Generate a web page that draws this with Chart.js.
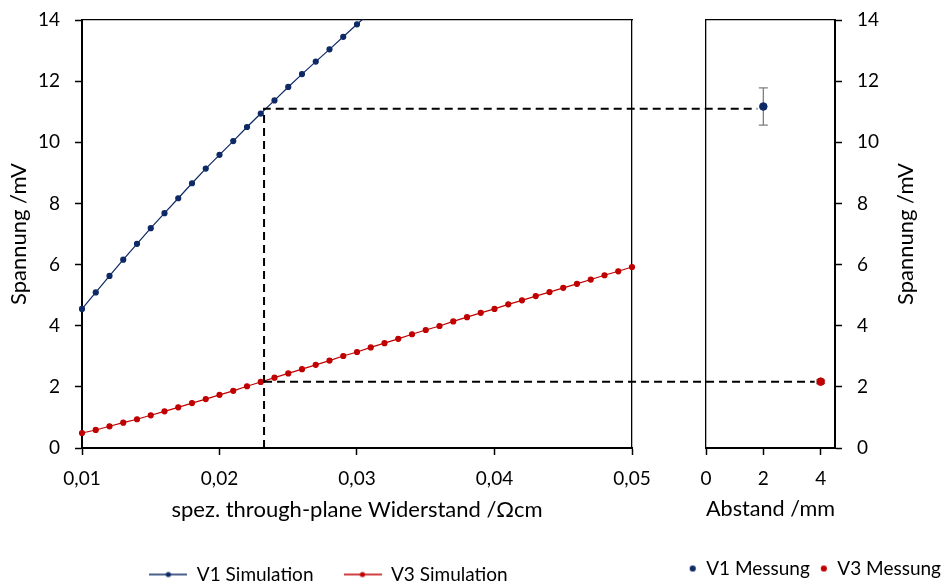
<!DOCTYPE html>
<html>
<head>
<meta charset="utf-8">
<script src="https://cdn.jsdelivr.net/npm/chart.js@4/dist/chart.umd.min.js"></script>
<style>
html,body{margin:0;padding:0;background:#fff;overflow:hidden;width:951px;height:582px}
canvas{position:absolute;left:0;top:0}
</style>
</head>
<body>
<canvas id="cl" width="951" height="594"></canvas>
<canvas id="cr" width="951" height="588"></canvas>
<script>
// ---------- data ----------
const resistivity = [0.010,0.011,0.012,0.013,0.014,0.015,0.016,0.017,0.018,0.019,
  0.020,0.021,0.022,0.023,0.024,0.025,0.026,0.027,0.028,0.029,
  0.030,0.031,0.032,0.033,0.034,0.035,0.036,0.037,0.038,0.039,
  0.040,0.041,0.042,0.043,0.044,0.045,0.046,0.047,0.048,0.049,0.050];
const v1Simulation = [4.55,5.09,5.63,6.16,6.68,7.19,7.68,8.17,8.66,9.14,
  9.59,10.04,10.50,10.94,11.37,11.81,12.23,12.64,13.04,13.45,
  13.86,14.26,14.66];
const v3Simulation = [0.49,0.59,0.71,0.83,0.94,1.07,1.20,1.33,1.47,1.60,
  1.74,1.87,2.02,2.16,2.30,2.44,2.58,2.72,2.86,3.01,
  3.14,3.29,3.43,3.57,3.72,3.86,3.99,4.14,4.28,4.42,
  4.55,4.70,4.83,4.97,5.10,5.24,5.37,5.51,5.65,5.78,5.92];
const distance = [2, 4];
const v1Measured = [11.17];
const v1MeasuredErr = [0.61];
const v3Measured = [2.17];
const v3MeasuredErr = [0.06];
const guideResistivity = 0.02324;
const guideV1 = 11.1;
const guideV3 = 2.17;
const xTicksLeft = [0.01, 0.05, 0.01];   // min, max, step
const xTicksRight = [0, 4.5, 2];
const yTicks = [0, 14, 2];

// ---------- styles ----------
const FONT = 'Lato, "Open Sans", sans-serif';
const FS = 19;      // ticks, legend
const FT = 22;      // x axis titles
const FY = 22;      // y axis titles
const C1 = '#0e2a66';
const C3 = '#c00000';
Chart.defaults.font.family = FONT;
Chart.defaults.font.size = FS;
Chart.defaults.color = '#000';

function lineIcon(color) {
  const c = document.createElement('canvas'); c.width = 38; c.height = 8;
  const g = c.getContext('2d');
  g.strokeStyle = color; g.lineWidth = 1.3;
  g.beginPath(); g.moveTo(0, 4); g.lineTo(38, 4); g.stroke();
  g.fillStyle = color; g.beginPath(); g.arc(19, 4, 2.6, 0, Math.PI * 2); g.fill();
  return c;
}
function dotIcon(color) {
  const c = document.createElement('canvas'); c.width = 8; c.height = 8;
  const g = c.getContext('2d');
  g.fillStyle = color; g.beginPath(); g.arc(4, 4, 3.1, 0, Math.PI * 2); g.fill();
  return c;
}

const tickGrid = {drawOnChartArea: false, tickLength: 7, tickWidth: 1.5, color: '#000'};
const hiddenAxis = (pos, size) => ({
  position: pos, display: true, min: 0, max: 1,
  ticks: {display: false}, grid: {display: false, drawTicks: false},
  border: {display: true, color: '#000', width: 1.3},
  afterFit: s => {
    if (pos === 'top') s.height = size; else s.width = size;
    s.paddingTop = 0; s.paddingBottom = 0; s.paddingLeft = 0; s.paddingRight = 0;
  }
});
const fixY = w => s => { s.width = w; s.paddingTop = 0; s.paddingBottom = 0; };

const clipBox = {left: 5, right: 5, top: 0.5, bottom: 5};

// ---------- left chart ----------
const H_L = 594, PAD_L = 30;
const leftChart = new Chart(document.getElementById('cl'), {
  type: 'line',
  data: {
    datasets: [
      {label: 'V1 Simulation', data: v1Simulation.map((v, i) => ({x: resistivity[i], y: v})),
       xAxisID: 'x', yAxisID: 'y',
       borderColor: C1, backgroundColor: C1, borderWidth: 1.2, pointRadius: 2.5, pointHoverRadius: 2.5, clip: clipBox},
      {label: 'V3 Simulation', data: v3Simulation.map((v, i) => ({x: resistivity[i], y: v})),
       xAxisID: 'x', yAxisID: 'y',
       borderColor: C3, backgroundColor: C3, borderWidth: 1.2, pointRadius: 2.5, pointHoverRadius: 2.5, clip: clipBox}
    ]
  },
  options: {
    responsive: false, animation: false, events: [],
    layout: {padding: {left: 0, right: 294, top: 20, bottom: 0}},
    plugins: {
      tooltip: {enabled: false},
      legend: {
        position: 'bottom', align: 'center',
        labels: {
          usePointStyle: true, pointStyleWidth: 38, padding: PAD_L, color: '#000',
          font: {size: FS},
          generateLabels: chart => {
            const items = Chart.defaults.plugins.legend.labels.generateLabels(chart);
            items.forEach((it, i) => { it.pointStyle = lineIcon(i === 0 ? C1 : C3); });
            return items;
          }
        }
      }
    },
    scales: {
      x: {
        type: 'linear', position: 'bottom', min: xTicksLeft[0], max: xTicksLeft[1],
        ticks: {stepSize: xTicksLeft[2], padding: 12.6, color: '#000',
          callback: v => Number(v).toFixed(2).replace('.', ',')},
        grid: tickGrid, border: {color: '#000', width: 2},
        title: {display: true, text: 'spez. through-plane Widerstand /Ωcm', color: '#000',
          font: {size: FT}, padding: {top: 0, bottom: 11.8}},
        afterFit: s => { s.height = H_L - (FS + PAD_L + 10) - 448; }
      },
      xTop: hiddenAxis('top', 0),
      y: {
        position: 'left', min: yTicks[0], max: yTicks[1],
        ticks: {stepSize: yTicks[2], padding: 15, color: '#000'},
        grid: tickGrid, border: {color: '#000', width: 2},
        title: {display: true, text: 'Spannung /mV', color: '#000', font: {size: FY}, padding: {top: 5.3, bottom: 0}},
        afterFit: fixY(82)
      },
      yR: hiddenAxis('right', 25)
    }
  }
});

// ---------- right chart ----------
const H_R = 588, PAD_R = 10;
const overlay = {
  id: 'overlay',
  beforeDatasetsDraw(chart) {
    const ctx = chart.ctx;
    const lx = leftChart.scales.x, ly = leftChart.scales.y;
    const rx = chart.scales.x, ry = chart.scales.y;
    // guide lines
    ctx.save();
    ctx.strokeStyle = '#000'; ctx.lineWidth = 2; ctx.setLineDash([8, 5]);
    const gx = lx.getPixelForValue(guideResistivity);
    ctx.beginPath();
    ctx.moveTo(gx, ly.getPixelForValue(0));
    ctx.lineTo(gx, ly.getPixelForValue(guideV1));
    ctx.lineTo(rx.getPixelForValue(distance[0]) - 6, ry.getPixelForValue(guideV1));
    ctx.stroke();
    ctx.beginPath();
    ctx.moveTo(gx, ly.getPixelForValue(guideV3));
    ctx.lineTo(rx.getPixelForValue(distance[1]) - 6, ry.getPixelForValue(guideV3));
    ctx.stroke();
    ctx.restore();
    // error bars
    ctx.save();
    ctx.strokeStyle = '#7f7f7f'; ctx.lineWidth = 1.3;
    const bars = [[distance[0], v1Measured[0], v1MeasuredErr[0]], [distance[1], v3Measured[0], v3MeasuredErr[0]]];
    bars.forEach(([x, v, e]) => {
      const px = rx.getPixelForValue(x), y1 = ry.getPixelForValue(v + e), y2 = ry.getPixelForValue(v - e);
      ctx.beginPath();
      ctx.moveTo(px, y1); ctx.lineTo(px, y2);
      ctx.moveTo(px - 4.5, y1); ctx.lineTo(px + 4.5, y1);
      ctx.moveTo(px - 4.5, y2); ctx.lineTo(px + 4.5, y2);
      ctx.stroke();
    });
    ctx.restore();
  },
  afterDraw(chart) {
    const ctx = chart.ctx, a = chart.chartArea;
    ctx.save();
    ctx.fillStyle = '#000'; ctx.font = FY + 'px ' + FONT;
    ctx.textAlign = 'center'; ctx.textBaseline = 'middle';
    ctx.translate(906, (a.top + a.bottom) / 2);
    ctx.rotate(-Math.PI / 2);
    ctx.fillText('Spannung /mV', 0, 0);
    ctx.restore();
  }
};

const rightChart = new Chart(document.getElementById('cr'), {
  type: 'scatter',
  data: {
    datasets: [
      {label: 'V1 Messung', data: v1Measured.map(v => ({x: distance[0], y: v})),
       xAxisID: 'x', yAxisID: 'y',
       backgroundColor: C1, borderColor: C1, pointRadius: 3.8, pointHoverRadius: 3.8},
      {label: 'V3 Messung', data: v3Measured.map(v => ({x: distance[1], y: v})),
       xAxisID: 'x', yAxisID: 'y',
       backgroundColor: C3, borderColor: C3, pointRadius: 3.8, pointHoverRadius: 3.8}
    ]
  },
  plugins: [overlay],
  options: {
    responsive: false, animation: false, events: [],
    layout: {padding: {left: 600, right: 0, top: 20, bottom: 0}},
    plugins: {
      tooltip: {enabled: false},
      legend: {
        position: 'bottom', align: 'end',
        labels: {
          usePointStyle: true, pointStyleWidth: 8, padding: PAD_R, color: '#000',
          font: {size: FS},
          generateLabels: chart => {
            const items = Chart.defaults.plugins.legend.labels.generateLabels(chart);
            items.forEach((it, i) => { it.pointStyle = dotIcon(i === 0 ? C1 : C3); });
            return items;
          }
        }
      }
    },
    scales: {
      x: {
        type: 'linear', position: 'bottom', min: xTicksRight[0], max: xTicksRight[1],
        ticks: {stepSize: xTicksRight[2], includeBounds: false, padding: 12.6, color: '#000'},
        grid: tickGrid, border: {color: '#000', width: 2},
        title: {display: true, text: 'Abstand /mm', color: '#000', font: {size: FT}, padding: {top: 0, bottom: 26.8}},
        afterFit: s => { s.height = H_R - (FS + PAD_R + 10) - 448; }
      },
      xTop: hiddenAxis('top', 0),
      yL: hiddenAxis('left', 106),
      y: {
        position: 'right', min: yTicks[0], max: yTicks[1],
        ticks: {stepSize: yTicks[2], padding: 15, color: '#000'},
        grid: tickGrid, border: {color: '#000', width: 2},
        afterFit: fixY(116)
      }
    }
  }
});
</script>
</body>
</html>
